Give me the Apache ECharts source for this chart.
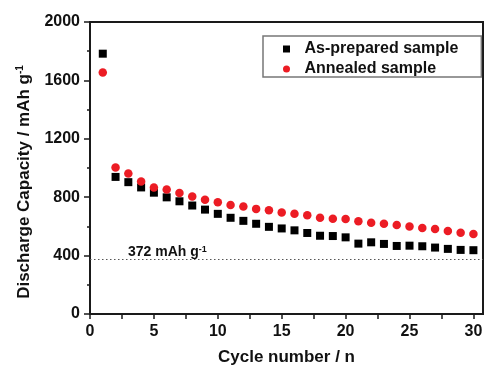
<!DOCTYPE html>
<html>
<head>
<meta charset="utf-8">
<script src="https://cdn.jsdelivr.net/npm/echarts@6/dist/echarts.min.js"></script>
<style>
  html, body { margin: 0; padding: 0; background: #fff; }
  #main { width: 486px; height: 371px; }
</style>
</head>
<body>
<div id="main"></div>
<script>
// cycle numbers and discharge capacities (mAh/g)
var cycles = [1, 2, 3, 4, 5, 6, 7, 8, 9, 10, 11, 12, 13, 14, 15, 16, 17, 18, 19, 20, 21, 22, 23, 24, 25, 26, 27, 28, 29, 30];
var asPrepared = [1783, 939, 903, 867, 831, 799, 772, 743, 715, 686, 659, 638, 618, 597, 586, 573, 555, 536, 534, 525, 482, 491, 480, 466, 468, 464, 455, 446, 439, 437];
var annealed = [1654, 1003, 962, 908, 867, 853, 828, 804, 783, 765, 747, 736, 720, 711, 695, 686, 677, 659, 652, 650, 636, 625, 618, 609, 600, 589, 582, 568, 557, 548];
var graphiteLimit = 372;

(function () {
  var myChart = echarts.init(document.getElementById('main'));

  function pairs(ys) {
    return cycles.map(function (c, i) { return [c, ys[i]]; });
  }

  var font = 'Liberation Sans, Arial, sans-serif';
  var axisColor = '#1a1a1a';

  var option = {
    animation: false,
    textStyle: { fontFamily: font },
    grid: {
      left: 90, right: 3, top: 22, bottom: 54,
      show: true, borderColor: axisColor, borderWidth: 2
    },
    legend: {
      orient: 'vertical',
      left: 263,
      top: 36,
      padding: [5, 23, 0, 20],
      itemGap: 4,
      itemWidth: 26,
      itemHeight: 7,
      symbolKeepAspect: true,
      borderColor: '#777',
      borderWidth: 1.5,
      textStyle: { fontSize: 16, fontWeight: 'bold', color: '#111', fontFamily: font },
      data: [
        { name: 'As-prepared sample', icon: 'path://M0,0L10,0L10,10L0,10Z' },
        { name: 'Annealed sample', icon: 'circle' }
      ]
    },
    xAxis: {
      type: 'value',
      min: 0,
      max: 30.75,
      interval: 2.5,
      name: 'Cycle number / n',
      nameLocation: 'middle',
      nameGap: 35,
      nameTextStyle: { fontSize: 17, fontWeight: 'bold', color: '#111', fontFamily: font },
      axisLine: { lineStyle: { color: axisColor, width: 2 } },
      axisTick: { length: 5, lineStyle: { color: axisColor, width: 1.5 } },
      axisLabel: {
        margin: 10,
        fontSize: 16, fontWeight: 'bold', color: '#111', fontFamily: font,
        showMaxLabel: false,
        formatter: function (v) { return v % 5 === 0 ? String(v) : ''; }
      },
      splitLine: { show: false }
    },
    yAxis: {
      type: 'value',
      min: 0,
      max: 2000,
      interval: 400,
      name: '{a|Discharge Capacity / mAh g}{s|-1}',
      nameLocation: 'middle',
      nameGap: 57,
      nameTextStyle: {
        padding: [0, 28, 0, 0],
        rich: {
          a: { fontSize: 17, fontWeight: 'bold', color: '#111', fontFamily: font },
          s: { fontSize: 10, fontWeight: 'bold', color: '#111', fontFamily: font, verticalAlign: 'top', padding: [0, 0, 8, 0] }
        }
      },
      axisLine: { show: true, lineStyle: { color: axisColor, width: 2 } },
      axisTick: { length: 6, lineStyle: { color: axisColor, width: 1.5 } },
      minorTick: { show: true, splitNumber: 2, length: 3, lineStyle: { color: axisColor, width: 1.5 } },
      axisLabel: {
        margin: 10, fontSize: 16, fontWeight: 'bold', color: '#111', fontFamily: font,
        formatter: function (v) { return String(v); }
      },
      splitLine: { show: false }
    },
    series: [
      {
        name: 'As-prepared sample',
        type: 'scatter',
        symbol: 'rect',
        symbolSize: 8,
        itemStyle: { color: '#000', opacity: 1 },
        data: pairs(asPrepared),
        markLine: {
          silent: true,
          symbol: 'none',
          lineStyle: { type: [1.5, 2.5], color: '#555', width: 1 },
          label: {
            position: 'insideStartTop',
            distance: [38, 0],
            formatter: '{a|372 mAh g}{s|-1}',
            rich: {
              a: { fontSize: 14, fontWeight: 'bold', color: '#111', fontFamily: font },
              s: { fontSize: 9, fontWeight: 'bold', color: '#111', fontFamily: font, verticalAlign: 'top', padding: [0, 0, 6, 0] }
            }
          },
          data: [{ yAxis: graphiteLimit }]
        }
      },
      {
        name: 'Annealed sample',
        type: 'scatter',
        symbol: 'circle',
        symbolSize: 8.5,
        itemStyle: { color: '#ec1c24', opacity: 1 },
        data: pairs(annealed)
      }
    ]
  };
  myChart.setOption(option);
})();
</script>
</body>
</html>
